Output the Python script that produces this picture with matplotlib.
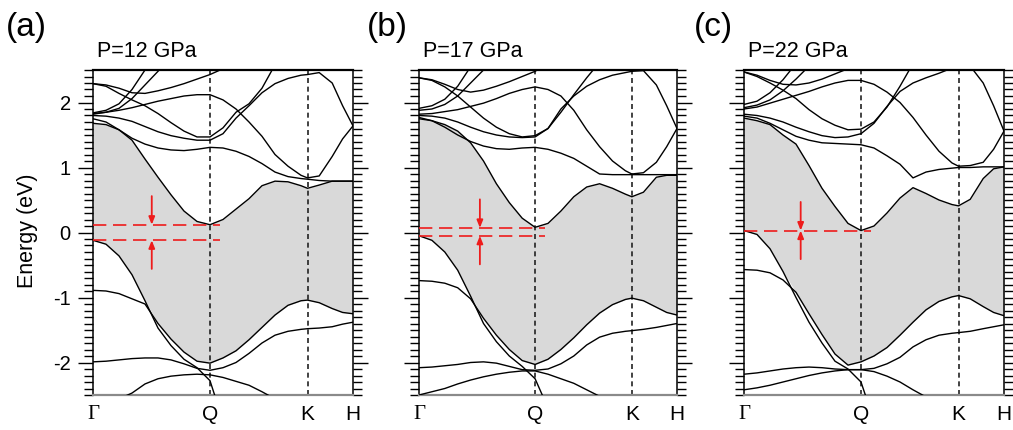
import numpy as np
import matplotlib
matplotlib.use("Agg")
import matplotlib.pyplot as plt
from matplotlib.ticker import MultipleLocator

nan = np.nan

# ---------------- data ----------------
# k-path coordinate (fraction of the path Γ-Q-K-H)
T = [0.0, 0.05, 0.1, 0.15, 0.2, 0.25, 0.3, 0.35, 0.4, 0.45, 0.5, 0.55, 0.6,
     0.65, 0.7, 0.75, 0.8, 0.825, 0.87, 0.92, 0.96, 1.0]
k_ticks = [0.0, 0.45, 0.825, 1.0]
k_labels = ["Γ", "Q", "K", "H"]
pressures = ["P=12 GPa", "P=17 GPa", "P=22 GPa"]
tags = ["(a)", "(b)", "(c)"]
gap_cbm = [0.12, 0.07, 0.03]
gap_vbm = [-0.12, -0.05, 0.03]


def fill(vals):
    return vals + [nan] * (len(T) - len(vals))


# ---- P = 12 GPa ----
a_cb1 = [1.68, 1.66, 1.58, 1.42, 1.13, 0.85, 0.58, 0.33, 0.17, 0.12, 0.20, 0.36, 0.52, 0.72, 0.79, 0.78, 0.72, 0.68, 0.73, 0.79, 0.79, 0.79]
a_b2 = [1.75, 1.70, 1.58, 1.45, 1.36, 1.30, 1.27, 1.26, 1.28, 1.31, 1.30, 1.25, 1.17, 1.06, 0.93, 0.86, 0.83, 0.82, 0.80, 0.79, 0.79, 0.79]
a_b3 = [1.83, 1.85, 1.88, 1.92, 1.97, 2.02, 2.06, 2.10, 2.12, 2.12, 2.04, 1.90, 1.70, 1.48, 1.20, 1.02, 0.88, 0.84, 0.87, 1.17, 1.44, 1.64]
a_b4 = fill([2.29, 2.25, 2.14, 2.04, 1.95, 1.83, 1.69, 1.56, 1.47, 1.47, 1.61, 1.85, 1.98, 2.22, 2.58])
a_b5 = [1.80, 1.79, 1.76, 1.71, 1.63, 1.55, 1.49, 1.45, 1.42, 1.42, 1.52, 1.76, 1.95, 2.15, 2.29, 2.37, 2.42, 2.43, 2.46, 2.30, 1.95, 1.64]
a_b6 = fill([2.29, 2.27, 2.22, 2.15, 2.14, 2.18, 2.23, 2.29, 2.36, 2.43, 2.52, 2.62])
a_s1 = fill([1.84, 1.88, 1.98, 2.20, 2.50, 2.80])
a_s2 = fill([1.82, 1.85, 1.91, 2.06, 2.27, 2.48, 2.70])
a_v1 = fill([-0.12, -0.18, -0.36, -0.65, -1.05, -1.47, -1.74, -1.95, -2.08, -2.28, -2.90])
a_v2 = [-0.89, -0.90, -0.94, -1.02, -1.10, -1.40, -1.64, -1.84, -1.98, -2.01, -1.93, -1.82, -1.65, -1.46, -1.27, -1.12, -1.05, -1.04, -1.08, -1.17, -1.23, -1.25]
a_v3 = [-1.99, -1.98, -1.96, -1.94, -1.93, -1.93, -1.96, -2.02, -2.09, -2.12, -2.08, -2.00, -1.86, -1.70, -1.58, -1.52, -1.49, -1.48, -1.47, -1.45, -1.41, -1.38]
a_v4 = fill([-2.75, -2.65, -2.56, -2.47, -2.33, -2.25, -2.21, -2.19, -2.18, -2.19, -2.23, -2.29, -2.35, -2.45, -2.56])

# ---- P = 17 GPa ----
b_cb1 = [1.75, 1.72, 1.66, 1.56, 1.38, 1.10, 0.75, 0.46, 0.22, 0.08, 0.14, 0.33, 0.55, 0.70, 0.75, 0.68, 0.59, 0.55, 0.62, 0.85, 0.88, 0.88]
b_b2 = [1.77, 1.72, 1.62, 1.50, 1.40, 1.33, 1.29, 1.28, 1.30, 1.31, 1.28, 1.22, 1.14, 1.02, 0.90, 0.89, 0.89, 0.89, 0.89, 0.89, 0.89, 0.89]
b_b3 = [1.82, 1.83, 1.86, 1.89, 1.94, 1.99, 2.06, 2.14, 2.20, 2.24, 2.20, 2.10, 1.88, 1.58, 1.32, 1.10, 0.95, 0.90, 0.92, 1.08, 1.32, 1.60]
b_b4 = fill([2.38, 2.34, 2.24, 2.10, 1.93, 1.76, 1.62, 1.52, 1.47, 1.49, 1.60, 1.85, 2.12, 2.38, 2.62])
b_b5 = [1.80, 1.79, 1.76, 1.70, 1.62, 1.55, 1.50, 1.47, 1.46, 1.47, 1.60, 1.90, 2.10, 2.25, 2.35, 2.42, 2.46, 2.48, 2.49, 2.27, 1.95, 1.60]
b_b6 = fill([2.38, 2.35, 2.28, 2.20, 2.16, 2.19, 2.25, 2.32, 2.40, 2.48, 2.60])
b_s1 = fill([1.91, 1.95, 2.05, 2.25, 2.55, 2.85])
b_s2 = fill([1.88, 1.90, 1.97, 2.10, 2.30, 2.50, 2.72])
b_v1 = fill([-0.05, -0.12, -0.30, -0.58, -0.98, -1.40, -1.68, -1.90, -2.06, -2.25, -2.70])
b_v2 = [-0.74, -0.75, -0.78, -0.85, -1.02, -1.32, -1.58, -1.80, -1.97, -2.03, -1.95, -1.80, -1.62, -1.42, -1.24, -1.11, -1.03, -1.01, -1.05, -1.15, -1.23, -1.27]
b_v3 = [-2.08, -2.07, -2.05, -2.03, -2.00, -1.99, -2.01, -2.06, -2.11, -2.12, -2.10, -2.02, -1.90, -1.73, -1.61, -1.55, -1.52, -1.51, -1.49, -1.46, -1.43, -1.40]
b_v4 = fill([-2.50, -2.45, -2.40, -2.33, -2.27, -2.22, -2.18, -2.15, -2.13, -2.13, -2.18, -2.25, -2.32, -2.42, -2.52])

# ---- P = 22 GPa ----
c_cb1 = [1.76, 1.72, 1.66, 1.50, 1.36, 1.03, 0.68, 0.40, 0.14, 0.03, 0.10, 0.30, 0.53, 0.69, 0.60, 0.50, 0.43, 0.41, 0.51, 0.83, 0.98, 1.01]
c_b2 = [1.79, 1.76, 1.68, 1.58, 1.48, 1.42, 1.38, 1.37, 1.36, 1.35, 1.30, 1.18, 1.05, 0.84, 0.93, 0.97, 0.99, 1.00, 1.00, 1.01, 1.01, 1.01]
c_b3 = [1.90, 1.93, 1.99, 2.05, 2.11, 2.17, 2.24, 2.30, 2.34, 2.34, 2.28, 2.16, 2.00, 1.77, 1.50, 1.25, 1.07, 1.02, 1.03, 1.08, 1.28, 1.56]
c_b4 = fill([2.47, 2.40, 2.30, 2.19, 2.06, 1.89, 1.75, 1.65, 1.58, 1.59, 1.70, 1.93, 2.25, 2.60])
c_b5 = [1.82, 1.80, 1.76, 1.70, 1.62, 1.55, 1.49, 1.46, 1.47, 1.52, 1.68, 1.94, 2.17, 2.30, 2.38, 2.45, 2.53, 2.57, 2.56, 2.30, 1.95, 1.56]
c_b6 = fill([2.47, 2.42, 2.34, 2.28, 2.27, 2.30, 2.36, 2.44, 2.52, 2.62])
c_s1 = fill([1.97, 2.02, 2.15, 2.35, 2.60])
c_s2 = fill([1.92, 1.96, 2.04, 2.18, 2.36, 2.56])
c_v1 = fill([0.03, -0.03, -0.25, -0.60, -1.00, -1.38, -1.70, -1.98, -2.10, -2.30, -2.90])
c_v2 = [-0.57, -0.58, -0.62, -0.73, -0.92, -1.25, -1.57, -1.87, -2.04, -1.99, -1.90, -1.77, -1.58, -1.38, -1.19, -1.06, -0.99, -0.97, -1.02, -1.14, -1.23, -1.28]
c_v3 = [-2.18, -2.16, -2.13, -2.10, -2.08, -2.07, -2.08, -2.10, -2.11, -2.11, -2.09, -2.02, -1.92, -1.76, -1.65, -1.58, -1.55, -1.54, -1.52, -1.48, -1.45, -1.42]
c_v4 = fill([-2.42, -2.39, -2.35, -2.30, -2.25, -2.20, -2.16, -2.13, -2.11, -2.11, -2.14, -2.21, -2.30, -2.42, -2.53])

panels = [
    dict(cond=[a_cb1, a_b2, a_b3, a_b4, a_b5, a_b6, a_s1, a_s2], val=[a_v1, a_v2, a_v3, a_v4]),
    dict(cond=[b_cb1, b_b2, b_b3, b_b4, b_b5, b_b6, b_s1, b_s2], val=[b_v1, b_v2, b_v3, b_v4]),
    dict(cond=[c_cb1, c_b2, c_b3, c_b4, c_b5, c_b6, c_s1, c_s2], val=[c_v1, c_v2, c_v3, c_v4]),
]

# ---------------- style ----------------
plt.rcParams["font.family"] = ["Liberation Sans", "DejaVu Sans"]
plt.rcParams["axes.unicode_minus"] = False
W, H = 1013, 430
fig = plt.figure(figsize=(W / 100, H / 100), dpi=100)
ax_px = [(93, 260), (419, 258), (744, 260)]
tag_x = [6, 367, 694]
arrow_t = [0.226, 0.236, 0.218]
dash_end = 0.49
arrow_len = 0.44

for i, (p, (x0, w)) in enumerate(zip(panels, ax_px)):
    ax = fig.add_axes([x0 / W, 35 / H, w / W, 325 / H])
    t = np.array(T)
    cb = np.array(p["cond"][0])
    vb = np.fmax(np.array(p["val"][0]), np.array(p["val"][1]))
    ax.fill_between(t, vb, cb, color="#d9d9d9", lw=0, zorder=0)
    for band in p["cond"] + p["val"]:
        ax.plot(t, band, color="black", lw=1.0, zorder=3, solid_joinstyle="round")
    for kx in k_ticks[1:3]:
        ax.axvline(kx, color="#222222", lw=1.2, ls=(0, (3, 2.2)), zorder=2)

    # gap markers
    cbm, vbm = gap_cbm[i], gap_vbm[i]
    for lvl in sorted(set([cbm, vbm])):
        ax.plot([0, dash_end], [lvl, lvl], color="#ee1c1c", lw=1.2,
                ls=(0, (8, 4)), zorder=4)
    ta = arrow_t[i]
    ap = dict(arrowstyle="-|>,head_length=0.45,head_width=0.18", color="#ee1c1c",
              lw=1.3, shrinkA=0, shrinkB=0)
    ax.annotate("", xy=(ta, cbm), xytext=(ta, cbm + arrow_len), arrowprops=ap, zorder=5)
    ax.annotate("", xy=(ta, vbm), xytext=(ta, vbm - arrow_len), arrowprops=ap, zorder=5)

    ax.set_xlim(0, 1)
    ax.set_ylim(-2.5, 2.5)
    ax.set_yticks([-2, -1, 0, 1, 2])
    ax.yaxis.set_minor_locator(MultipleLocator(0.1))
    ax.tick_params(axis="y", which="both", direction="out", left=True, right=True,
                   width=1.0, labelsize=14.5, pad=5)
    ax.tick_params(axis="y", which="major", length=11)
    ax.tick_params(axis="y", which="minor", length=6.5)
    if i > 0:
        ax.tick_params(axis="y", labelleft=False)
    ax.set_xticks(k_ticks)
    ax.set_xticklabels(k_labels)
    ax.tick_params(axis="x", length=0, pad=7, labelsize=15)
    ax.get_xticklabels()[0].set_fontfamily(["Liberation Serif", "DejaVu Serif"])
    ax.spines["top"].set_linewidth(1.6)
    ax.spines["left"].set_linewidth(1.1)
    ax.spines["right"].set_linewidth(1.1)
    ax.spines["bottom"].set_linewidth(1.6)
    ax.spines["bottom"].set_color("#8a8a8a")

    ax.text(0.015, 1.04, pressures[i], transform=ax.transAxes, fontsize=15.5,
            ha="left", va="baseline")
    fig.text(tag_x[i] / W, 1 - 36 / H, tags[i], fontsize=24, ha="left", va="baseline")

fig.text(27 / W, 1 - 231 / H, "Energy (eV)", rotation=90, fontsize=15.5,
         ha="center", va="center")

fig.savefig("out.png", dpi=100)
